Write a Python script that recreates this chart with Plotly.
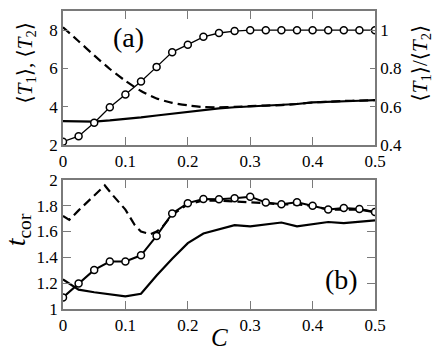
import plotly.graph_objects as go

# ---- data ----
C = [0.0, 0.025, 0.05, 0.075, 0.1, 0.125, 0.15, 0.175, 0.2, 0.225, 0.25,
     0.275, 0.3, 0.325, 0.35, 0.375, 0.4, 0.425, 0.45, 0.475, 0.5]

# panel (a)
T1_mean = [3.24, 3.23, 3.22, 3.28, 3.35, 3.44, 3.54, 3.64, 3.74, 3.84, 3.91,
           3.97, 4.02, 4.06, 4.08, 4.14, 4.22, 4.24, 4.29, 4.31, 4.34]
T2_mean = [8.15, 7.42, 6.68, 5.97, 5.35, 4.82, 4.43, 4.20, 4.07, 3.98, 3.97,
           3.99, 4.03, 4.06, 4.08, 4.14, 4.22, 4.25, 4.30, 4.32, 4.34]
ratio = [0.417, 0.446, 0.516, 0.597, 0.664, 0.732, 0.808, 0.885, 0.924, 0.965, 0.985,
         0.995, 1.0, 1.0, 1.0, 1.0, 1.0, 1.0, 1.0, 1.0, 1.0]

# panel (b)
tcor_circles = [1.09, 1.198, 1.303, 1.368, 1.368, 1.416, 1.566, 1.74, 1.82, 1.852, 1.85,
                1.857, 1.87, 1.825, 1.812, 1.827, 1.80, 1.77, 1.782, 1.774, 1.752]
tcor_solid = [1.23, 1.15, 1.13, 1.115, 1.098, 1.118, 1.26, 1.39, 1.51, 1.585, 1.62,
              1.65, 1.64, 1.657, 1.67, 1.64, 1.657, 1.674, 1.665, 1.674, 1.687]
C_dash = [0.0, 0.01, 0.025, 0.05, 0.067, 0.08, 0.1, 0.115, 0.125, 0.14, 0.15, 0.16,
          0.175, 0.2, 0.225, 0.25, 0.275, 0.3, 0.325, 0.35, 0.375, 0.4, 0.425,
          0.45, 0.475, 0.5]
tcor_dash = [1.72, 1.69, 1.764, 1.879, 1.957, 1.88, 1.77, 1.65, 1.60, 1.58, 1.60, 1.64,
             1.73, 1.81, 1.84, 1.84, 1.835, 1.83, 1.82, 1.81, 1.81, 1.80, 1.77,
             1.77, 1.77, 1.75]

x_ticks = [0, 0.1, 0.2, 0.3, 0.4, 0.5]
x_ticklabels = ["0", "0.1", "0.2", "0.3", "0.4", "0.5"]

FONT = "Liberation Serif, Times New Roman, DejaVu Serif, serif"
AX = "#7a7a7a"
BLACK = "black"

fig = go.Figure()

circ = dict(symbol="circle", size=7, color="white", line=dict(color=BLACK, width=1.5))

# panel (a)
fig.add_trace(go.Scatter(x=C, y=T1_mean, mode="lines", line=dict(color=BLACK, width=2.2),
                         xaxis="x", yaxis="y", showlegend=False))
fig.add_trace(go.Scatter(x=C, y=T2_mean, mode="lines",
                         line=dict(color=BLACK, width=2.2, dash="9px,5px", shape="spline", smoothing=0.6),
                         xaxis="x", yaxis="y", showlegend=False))
fig.add_trace(go.Scatter(x=C, y=ratio, mode="lines+markers", line=dict(color=BLACK, width=1.3),
                         marker=circ, xaxis="x", yaxis="y2", showlegend=False))

# panel (b)
fig.add_trace(go.Scatter(x=C_dash, y=tcor_dash, mode="lines",
                         line=dict(color=BLACK, width=2.2, dash="9px,5px"),
                         xaxis="x2", yaxis="y3", showlegend=False))
fig.add_trace(go.Scatter(x=C, y=tcor_solid, mode="lines", line=dict(color=BLACK, width=2.2),
                         xaxis="x2", yaxis="y3", showlegend=False))
fig.add_trace(go.Scatter(x=C, y=tcor_circles, mode="lines+markers", line=dict(color=BLACK, width=2),
                         marker=circ, xaxis="x2", yaxis="y3", showlegend=False))

tickfont = dict(family=FONT, size=17, color=BLACK)
common_x = dict(range=[0, 0.5], tickvals=x_ticks, ticktext=x_ticklabels, ticks="inside",
                ticklen=8, tickcolor=AX, showline=True, linecolor=AX, linewidth=1.5,
                mirror="ticks", showgrid=False, zeroline=False, tickfont=tickfont)

fig.update_layout(
    width=436, height=352,
    margin=dict(l=63, r=61, t=2, b=43),
    paper_bgcolor="white", plot_bgcolor="white",
    font=dict(family=FONT, color=BLACK),
    xaxis=dict(domain=[0, 1], anchor="y", **common_x),
    yaxis=dict(domain=[0.5505, 1], anchor="x", range=[2, 9], tickvals=[2, 4, 6, 8],
               ticks="inside", ticklen=5, tickcolor=AX, showline=True, linecolor=AX,
               linewidth=1.5, showgrid=False, zeroline=False, tickfont=tickfont),
    yaxis2=dict(overlaying="y", side="right", anchor="x", range=[0.4, 1.1],
                tickvals=[0.4, 0.6, 0.8, 1.0], ticktext=["0.4", "0.6", "0.8", "1"],
                ticks="inside", ticklen=5, tickcolor=AX, showline=True, linecolor=AX,
                linewidth=1.5, showgrid=False, zeroline=False, tickfont=tickfont),
    xaxis2=dict(domain=[0, 1], anchor="y3", **common_x),
    yaxis3=dict(domain=[0, 0.4332], anchor="x2", range=[1, 2],
                tickvals=[1, 1.2, 1.4, 1.6, 1.8, 2], ticktext=["1", "1.2", "1.4", "1.6", "1.8", "2"],
                ticks="inside", ticklen=8, tickcolor=AX, showline=True, linecolor=AX,
                linewidth=1.5, mirror="ticks", showgrid=False, zeroline=False, tickfont=tickfont),
)

def px_x(px):
    return (px - 63) / 312.0

def px_y(py):
    return (309 - py) / 307.0

ann = [
    dict(text="(a)", x=px_x(128), y=px_y(29), font=dict(family=FONT, size=28, color=BLACK)),
    dict(text="(b)", x=px_x(341), y=px_y(279), font=dict(family=FONT, size=28, color=BLACK)),
    dict(text="<i>C</i>", x=px_x(219), y=px_y(338), font=dict(family=FONT, size=25, color=BLACK)),
    dict(text="⟨<i>T</i><sub>1</sub>⟩, ⟨<i>T</i><sub>2</sub>⟩", x=px_x(26), y=px_y(56),
         textangle=-90, font=dict(family=FONT, size=21, color=BLACK)),
    dict(text="⟨<i>T</i><sub>1</sub>⟩/⟨<i>T</i><sub>2</sub>⟩", x=px_x(421), y=px_y(56),
         textangle=-90, font=dict(family=FONT, size=21, color=BLACK)),
    dict(text="<i>t</i><sub>cor</sub>", x=px_x(17), y=px_y(228),
         textangle=-90, font=dict(family=FONT, size=28, color=BLACK)),
]
for a in ann:
    a.update(xref="paper", yref="paper", showarrow=False, xanchor="center", yanchor="middle")
fig.update_layout(annotations=ann)

fig.write_html("out.html", config={"displayModeBar": False},
               post_script="document.body.style.margin='0';document.body.style.padding='0';")
